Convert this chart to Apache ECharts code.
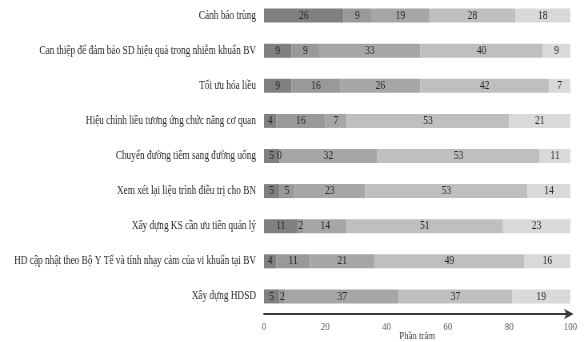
<!DOCTYPE html>
<html>
<head>
<meta charset="utf-8">
<script src="https://cdn.jsdelivr.net/npm/echarts@6/dist/echarts.min.js"></script>
<style>
  html, body { margin: 0; padding: 0; background: #ffffff; overflow: hidden; }
  #wrap { width: 587px; height: 342px; overflow: hidden; }
  /* narrow serif look: draw wide, then condense horizontally */
  #chart { width: 734px; height: 342px; transform: scaleX(0.8); transform-origin: 0 0; }
</style>
</head>
<body>
<div id="wrap"><div id="chart"></div></div>
<script>
// Strategy items (top to bottom)
const categories = [
  'Cảnh báo trùng',
  'Can thiệp để đảm bảo SD hiệu quả trong nhiễm khuẩn BV',
  'Tối ưu hóa liều',
  'Hiệu chỉnh liều tương ứng chức năng cơ quan',
  'Chuyển đường tiêm sang đường uống',
  'Xem xét lại liệu trình điều trị cho BN',
  'Xây dựng KS cần ưu tiên quản lý',
  'HD cập nhật theo Bộ Y Tế và tính nhạy cảm của vi khuẩn tại BV',
  'Xây dựng HDSD'
];

// Percentage of each response level, per item
const level1 = [26, 9, 9, 4, 5, 5, 11, 4, 5];
const level2 = [9, 9, 16, 16, 0, 5, 2, 11, 2];
const level3 = [19, 33, 26, 7, 32, 23, 14, 21, 37];
const level4 = [28, 40, 42, 53, 53, 53, 51, 49, 37];
const level5 = [18, 9, 7, 21, 11, 14, 23, 16, 19];

const xTicks = [0, 20, 40, 60, 80, 100];

const levels = [level1, level2, level3, level4, level5];
const shades = ['#808080', '#999999', '#a6a6a6', '#bfbfbf', '#d9d9d9'];
const serif = '"Liberation Serif", "DejaVu Serif", serif';

const chart = echarts.init(document.getElementById('chart'), null, { renderer: 'canvas' });

chart.setOption({
  animation: false,
  backgroundColor: '#ffffff',
  grid: {
    left: 330, right: 21, top: -2, bottom: 28,
    containLabel: false,
    outerBoundsMode: 'none'
  },
  xAxis: {
    type: 'value',
    min: xTicks[0],
    max: xTicks[xTicks.length - 1],
    interval: 20,
    name: 'Phần trăm',
    nameLocation: 'middle',
    nameGap: 16,
    nameMoveOverlap: false,
    nameTextStyle: { fontFamily: serif, fontSize: 11, color: '#404040', lineHeight: 12 },
    axisLine: {
      show: true,
      symbol: ['none', 'arrow'],
      symbolSize: [8, 12],
      symbolOffset: [0, 4],
      lineStyle: { color: '#3a3a3a', width: 2 }
    },
    axisTick: { show: false },
    splitLine: { show: false },
    axisLabel: {
      fontFamily: serif, fontSize: 11, color: '#595959', margin: 8,
      formatter: v => (xTicks.includes(v) ? String(v) : '')
    }
  },
  yAxis: {
    type: 'category',
    data: categories,
    inverse: true,
    axisLine: { show: false },
    axisTick: { show: false },
    axisLabel: { fontFamily: serif, fontSize: 11.6, color: '#262626', margin: 10 }
  },
  series: levels.map((vals, i) => ({
    type: 'bar',
    stack: 'total',
    data: vals,
    barWidth: 14,
    itemStyle: { color: shades[i] },
    label: {
      show: true,
      position: 'inside',
      fontFamily: serif,
      fontSize: 12,
      color: '#262626'
    }
  }))
});
</script>
</body>
</html>
